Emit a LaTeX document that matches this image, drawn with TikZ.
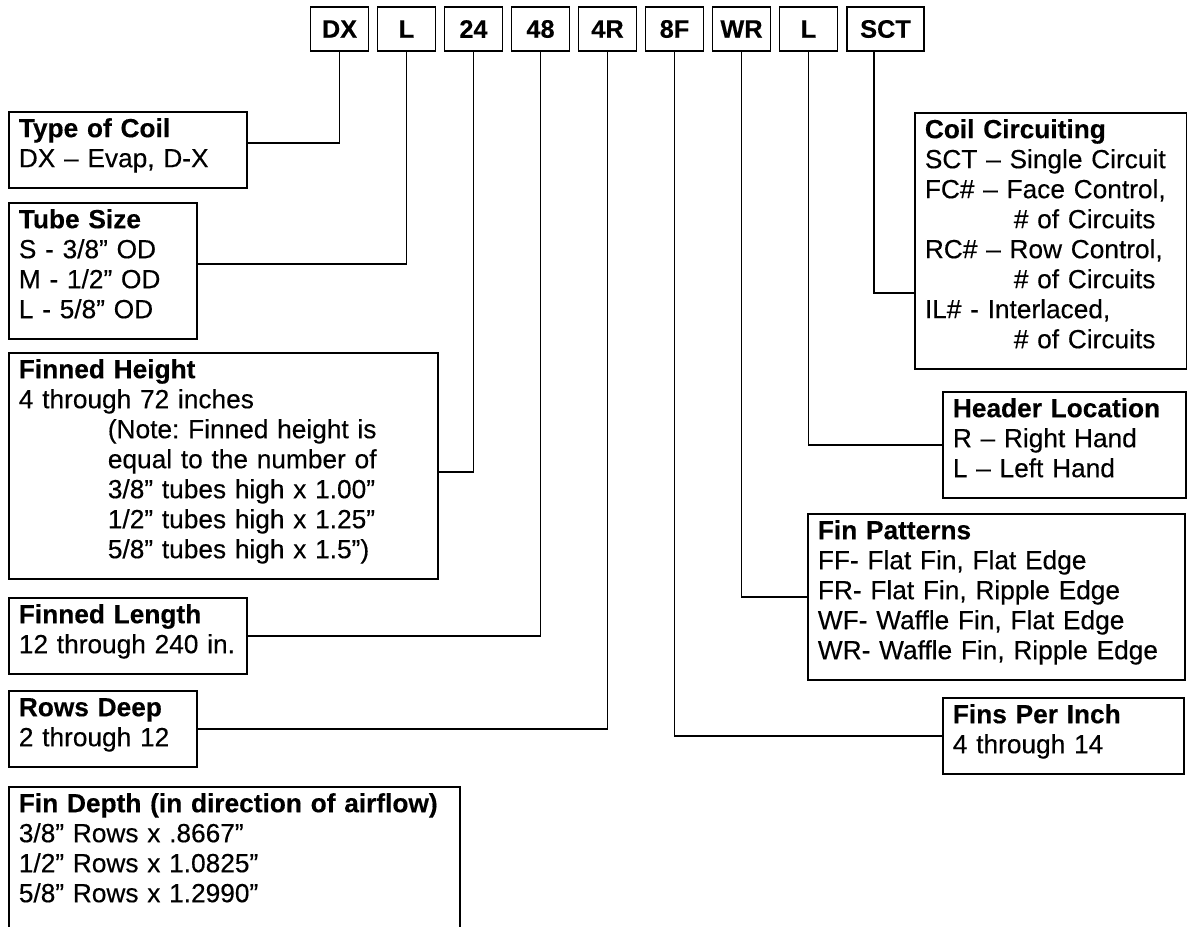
\documentclass[tikz,border=0pt]{standalone}
\usepackage{fontspec}
\setmainfont{Liberation Sans}[FakeBold=0.3]
\usetikzlibrary{calc, positioning}
\frenchspacing
\newcommand{\topstrut}{\rule{0pt}{19pt}}
\newcommand{\botstrut}{\rule[-15.5pt]{0pt}{15.5pt}}
\newcommand{\tabin}{\hspace*{66.75pt}}
\tikzset{
	codebox/.style={draw, line width=1.3pt, minimum width=43.5pt, minimum height=33pt, inner sep=0pt, font=\fontsize{19pt}{22pt}\selectfont\bfseries},
	infobox/.style={draw, line width=1.3pt, anchor=north west, inner xsep=7.5pt, inner ysep=0pt, align=left, font=\fontsize{19.7pt}{22.5pt}\selectfont},
	link/.style={line width=1.3pt}
}
\begin{document}
\begin{tikzpicture}[x=0.75pt, y=-0.75pt, node distance=50.25pt]
	\path[use as bounding box, fill=white] (0,0) rectangle (1187,926);
	% model code
	\node[codebox] (cdx) at (339.5,29) {DX};
	\node[codebox, right of=cdx] (ctube) {L};
	\node[codebox, right of=ctube] (cheight) {24};
	\node[codebox, right of=cheight] (clength) {48};
	\node[codebox, right of=clength] (crows) {4R};
	\node[codebox, right of=crows] (cfpi) {8F};
	\node[codebox, right of=cfpi] (cpattern) {WR};
	\node[codebox, right of=cpattern] (cheader) {L};
	\node[codebox, minimum width=57.75pt] (ccircuit) at (885.5,29) {SCT};
	% left side
	\node[infobox, text width=163.5pt] (coil) at (8,111) {\topstrut\textbf{Type of Coil}\\
		DX – Evap, D-X\botstrut};
	\node[infobox, text width=126pt] (tube) at (8,202) {\topstrut\textbf{Tube Size}\\
		S - 3/8” OD\\ M - 1/2” OD\\ L - 5/8” OD\botstrut};
	\node[infobox, text width=306.75pt] (height) at (8,352) {\topstrut\textbf{Finned Height}\\
		4 through 72 inches\\
		\tabin(Note: Finned height is\\
		\tabin equal to the number of\\
		\tabin 3/8” tubes high x 1.00”\\
		\tabin 1/2” tubes high x 1.25”\\
		\tabin 5/8” tubes high x 1.5”)\botstrut};
	\node[infobox, text width=163.5pt] (length) at (8,597) {\topstrut\textbf{Finned Length}\\
		\mbox{12 through 240 in.}\botstrut};
	\node[infobox, text width=126pt] (rows) at (8,690) {\topstrut\textbf{Rows Deep}\\
		2 through 12\botstrut};
	\node[infobox, text width=323.25pt] (depth) at (8,786) {\topstrut\textbf{Fin Depth (in direction of airflow)}\\
		3/8” Rows x .8667”\\ 1/2” Rows x 1.0825”\\ 5/8” Rows x 1.2990”\\ \botstrut};
	% right side
	\node[infobox, text width=189pt] (circuit) at (914,112) {\topstrut\textbf{Coil Circuiting}\\
		SCT – Single Circuit\\
		FC\# – Face Control,\\ \tabin\# of Circuits\\
		RC\# – Row Control,\\ \tabin\# of Circuits\\
		IL\# - Interlaced,\\ \tabin\# of Circuits\botstrut};
	\node[infobox, text width=167.25pt] (header) at (942,391) {\topstrut\textbf{Header Location}\\
		R – Right Hand\\ L – Left Hand\botstrut};
	\node[infobox, text width=267.75pt] (pattern) at (807,513) {\topstrut\textbf{Fin Patterns}\\
		FF- Flat Fin, Flat Edge\\ FR- Flat Fin, Ripple Edge\\
		WF- Waffle Fin, Flat Edge\\ WR- Waffle Fin, Ripple Edge\botstrut};
	\node[infobox, text width=165.75pt] (fpi) at (942,697) {\topstrut\textbf{Fins Per Inch}\\
		4 through 14\botstrut};
	% leaders
	\draw[link] (cdx.south) |- ($(coil.east)+(0,-7)$);
	\draw[link] (ctube.south) |- ($(tube.east)+(0,-7)$);
	\draw[link] (cheight.south) |- ($(height.east)+(0,6)$);
	\draw[link] (clength.south) |- (length.east);
	\draw[link] (crows.south) |- (rows.east);
	\draw[link] (cfpi.south) |- (fpi.west);
	\draw[link] (cpattern.south) |- (pattern.west);
	\draw[link] (cheader.south) |- (header.west);
	\draw[link] ($(ccircuit.south)+(-11.5,0)$) |- ($(circuit.west)+(0,52)$);
\end{tikzpicture}
\end{document}
